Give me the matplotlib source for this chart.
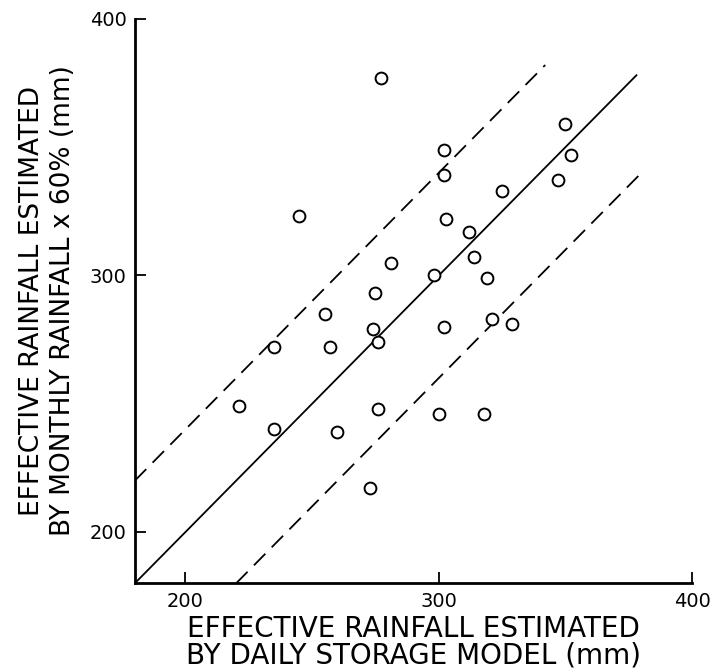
import numpy as np
import matplotlib
matplotlib.use("Agg")
from matplotlib import pyplot as plt

# values (mm)
daily_model = [245, 277, 350, 352, 347, 302, 302, 325, 303, 312,
               314, 281, 298, 319, 275, 255, 235, 257, 221, 235,
               260, 274, 276, 302, 321, 329, 276, 300, 318, 273]
monthly_60 = [323, 377, 359, 347, 337, 349, 339, 333, 322, 317,
              307, 305, 300, 299, 293, 285, 272, 272, 249, 240,
              239, 279, 274, 280, 283, 281, 248, 246, 246, 217]

line_x = [180, 378]           # 1:1 line
upper_x = [180, 342]          # +40 mm band
lower_x = [220, 380]          # -40 mm band
band = 40

ticks = [200, 300, 400]

fig = plt.figure(figsize=(7.21, 6.72), dpi=100)
ax = fig.add_axes([0.187, 0.132, 0.773, 0.840])

ax.plot(line_x, line_x, color='black', lw=1.3)
ax.plot(upper_x, [v + band for v in upper_x], color='black', lw=1.3, dashes=(9, 5))
ax.plot(lower_x, [v - band for v in lower_x], color='black', lw=1.3, dashes=(9, 5))
ax.plot(daily_model, monthly_60, 'o', ms=8.5, mfc='white', mec='black', mew=1.4)

ax.set_xlim(180, 400)
ax.set_ylim(180, 400)
ax.set_xticks(ticks)
ax.set_yticks(ticks)
ax.tick_params(direction='in', length=8, width=1.3, labelsize=14, pad=6)
for s in ['top', 'right']:
    ax.spines[s].set_visible(False)
for s in ['left', 'bottom']:
    ax.spines[s].set_linewidth(2)

ax.set_xlabel('EFFECTIVE RAINFALL ESTIMATED\nBY DAILY STORAGE MODEL (mm)',
              fontsize=20, linespacing=0.95, labelpad=3)
ax.set_ylabel('EFFECTIVE RAINFALL ESTIMATED\nBY MONTHLY RAINFALL x 60% (mm)',
              fontsize=19, linespacing=1.25, labelpad=10)

fig.savefig('out.png', dpi=100)
